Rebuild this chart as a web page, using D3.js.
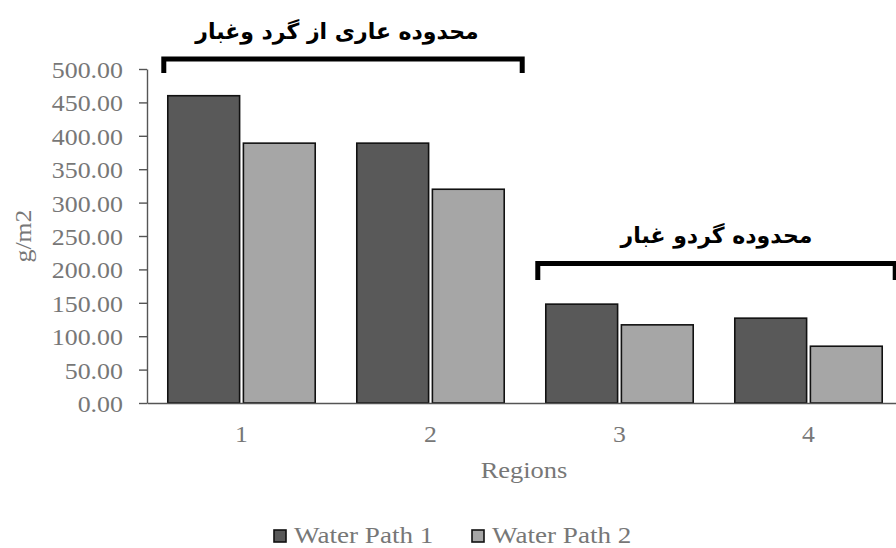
<!DOCTYPE html>
<html><head><meta charset="utf-8">
<script src="https://cdn.jsdelivr.net/npm/d3@7"></script>
<style>body{margin:0;background:#fff}</style></head>
<body><svg id="c" width="896" height="548"></svg>
<script>
const categories = ["1", "2", "3", "4"];
const seriesNames = ["Water Path 1", "Water Path 2"];
const waterPath1 = [460, 389, 148, 127];
const waterPath2 = [389, 320, 117, 85];
const yTickValues = [0, 50, 100, 150, 200, 250, 300, 350, 400, 450, 500];
const groupLabels = ["محدوده عاری از گرد وغبار", "محدوده گردو غبار"];
const groupFrom = ["1", "3"];
const groupTo = ["2", "4"];

const svg = d3.select("#c");
const W = 896, H = 548;
const SX = 1.12;
const serif = "'Liberation Serif','Times New Roman',serif";
const gray = "#777777";
const colors = ["#595959", "#a6a6a6"];

const x0 = d3.scaleBand().domain(categories).range([147, 903]).paddingInner(0.22).paddingOuter(0.11);
const x1 = d3.scaleBand().domain(seriesNames).range([0, x0.bandwidth()]).paddingInner(0.05);
const y = d3.scaleLinear().domain([0, 500]).range([403, 69]);

function stext(g, x, yy, txt, size, anchor, fill, sx) {
  return g.append("text")
    .attr("transform", `translate(${x},${yy}) scale(${sx || SX},1)`)
    .attr("text-anchor", anchor)
    .attr("font-family", serif)
    .attr("font-size", size)
    .attr("fill", fill)
    .text(txt);
}

// bars
const data = categories.map((c, i) => ({c, vals: [waterPath1[i], waterPath2[i]]}));
const gBars = svg.append("g");
data.forEach(d => {
  d.vals.forEach((v, j) => {
    gBars.append("rect")
      .attr("x", x0(d.c) + x1(seriesNames[j]))
      .attr("y", y(v))
      .attr("width", x1.bandwidth())
      .attr("height", y(0) - y(v))
      .attr("fill", colors[j])
      .attr("stroke", "#111")
      .attr("stroke-width", 1.6);
  });
});

// y axis
const yAxis = svg.append("g").attr("transform", "translate(147,0)")
  .call(d3.axisLeft(y).tickValues(yTickValues).tickSize(8).tickSizeOuter(0).tickFormat(d3.format(".2f")));
yAxis.select(".domain").attr("stroke", "#555").attr("stroke-width", 1.4);
yAxis.selectAll(".tick line").attr("stroke", "#555").attr("stroke-width", 1.4);
yAxis.selectAll(".tick text").each(function () {
  const t = d3.select(this);
  t.attr("x", null).attr("dy", null)
   .attr("transform", `translate(-24,8.5) scale(1.08,1)`)
   .attr("font-family", serif).attr("font-size", 24).attr("fill", gray);
});

// x axis
const xAxis = svg.append("g").attr("transform", "translate(0,403)")
  .call(d3.axisBottom(x0).tickSize(0).tickSizeOuter(0));
xAxis.select(".domain").attr("stroke", "#555").attr("stroke-width", 1.4);
xAxis.selectAll(".tick text").each(function () {
  d3.select(this).attr("y", null).attr("dy", null)
    .attr("transform", `translate(0,39) scale(${SX},1)`)
    .attr("font-family", serif).attr("font-size", 23).attr("fill", gray);
});

// axis titles
stext(svg, 524, 478, "Regions", 23, "middle", gray, 1.15);
svg.append("text")
  .attr("transform", `translate(31,236) rotate(-90) scale(${SX},1)`)
  .attr("text-anchor", "middle").attr("font-family", serif).attr("font-size", 23)
  .attr("fill", gray).text("g/m2");

// brackets
const bracketSpec = [
  {left: x0(groupFrom[0]) - 4, right: x0(groupTo[0]) + x0.bandwidth() + 18, top: y(515), bottom: y(494)},
  {left: x0(groupFrom[1]) - 8, right: x0(groupTo[1]) + x0.bandwidth() + 13, top: y(209), bottom: y(184)}
];
bracketSpec.forEach((b, i) => {
  svg.append("path")
    .attr("d", `M${b.left},${b.bottom}V${b.top}H${b.right}V${b.bottom}`)
    .attr("fill", "none").attr("stroke", "#000").attr("stroke-width", 5)
    .attr("stroke-linejoin", "miter");
  svg.append("text")
    .attr("x", (b.left + Math.min(b.right, W)) / 2 + (i === 0 ? -6 : 0))
    .attr("y", b.top - 20)
    .attr("text-anchor", "middle")
    .attr("direction", "rtl")
    .attr("font-family", "'DejaVu Sans',sans-serif")
    .attr("font-weight", "bold")
    .attr("font-size", 22)
    .attr("fill", "#000")
    .text(groupLabels[i]);
});

// legend
const legX = [274, 472];
seriesNames.forEach((s, j) => {
  svg.append("rect").attr("x", legX[j]).attr("y", 530).attr("width", 12).attr("height", 12)
    .attr("fill", colors[j]).attr("stroke", "#111").attr("stroke-width", 1.6);
  stext(svg, legX[j] + 20, 543, s, 24, "start", gray, 1.13);
});
</script>
</body></html>
